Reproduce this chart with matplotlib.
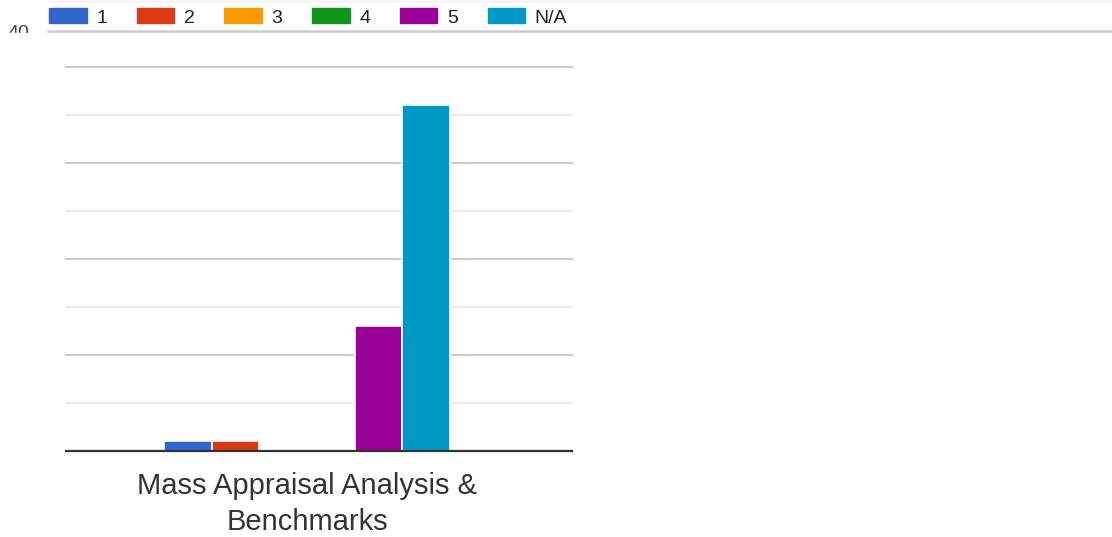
# Google Forms style grouped bar chart (single category)
import matplotlib.pyplot as plt
from matplotlib.patches import Rectangle
from matplotlib.lines import Line2D

plt.rcParams['font.family'] = ['Liberation Sans', 'DejaVu Sans']

# data
category = "Mass Appraisal Analysis &\nBenchmarks"
ratings = ["1", "2", "3", "4", "5", "N/A"]
counts = [1, 1, 0, 0, 13, 36]
colors = ["#3366cc", "#dc3912", "#ff9900", "#109618", "#990099", "#0099c6"]

W, H = 1112, 537
fig = plt.figure(figsize=(W / 100, H / 100), dpi=100)

# axes box in pixels: left 66, right 572, bottom 451, top 67
ax = fig.add_axes([66 / W, 1 - 451 / H, (572 - 66) / W, (451 - 67) / H])

slot = 47.6 / 506
for i, (r, c, col) in enumerate(zip(ratings, counts, colors)):
    ax.bar((i - 2.5) * slot, c, width=slot, color=col, edgecolor="white",
           linewidth=1.2, label=r, zorder=3)

ax.set_xlim(-(307 - 66) / 506, (572 - 307) / 506)
ax.set_ylim(0, 40)

# gridlines: minor every 5, major every 10
for y in range(5, 41, 5):
    if y % 10 == 0:
        ax.axhline(y, color="#cccccc", lw=1.6, zorder=1, clip_on=False)
    else:
        ax.axhline(y, color="#ebebeb", lw=1.6, zorder=1)
ax.axhline(0, color="#333333", lw=1.6, zorder=4, clip_on=False)

for s in ax.spines.values():
    s.set_visible(False)
ax.set_yticks([])
ax.set_xticks([0])
ax.set_xticklabels([category], fontsize=21, color="#333333", linespacing=1.35)
ax.tick_params(axis="x", length=0, pad=15)

# legend strip at the top
handles = [Rectangle((0, 0), 1, 1, color=col) for col in colors]
fig.legend(handles, ratings, loc="center left",
           bbox_to_anchor=(49 / W, 1 - 17.5 / H), ncol=6, frameon=False,
           fontsize=14, handlelength=1.93, handleheight=0.78,
           handletextpad=0.49, columnspacing=1.53, borderpad=0,
           borderaxespad=0, labelcolor="#222222")

# partly hidden axis label and separator line
fig.text(8 / W, 1 - 38 / H, "40", fontsize=14, color="#444444", va="baseline")
fig.patches.append(Rectangle((0, 0), 48 / W, 1 - 33 / H,
                             transform=fig.transFigure, color="white", zorder=10))
fig.lines.append(Line2D([48 / W, 1], [1 - 31 / H, 1 - 31 / H],
                        transform=fig.transFigure, color="#cccccc", lw=1.8))
fig.lines.append(Line2D([48 / W, 1], [1 - 0.5 / H, 1 - 0.5 / H],
                        transform=fig.transFigure, color="#eeeeee", lw=1))

fig.savefig("out.png", dpi=100)
